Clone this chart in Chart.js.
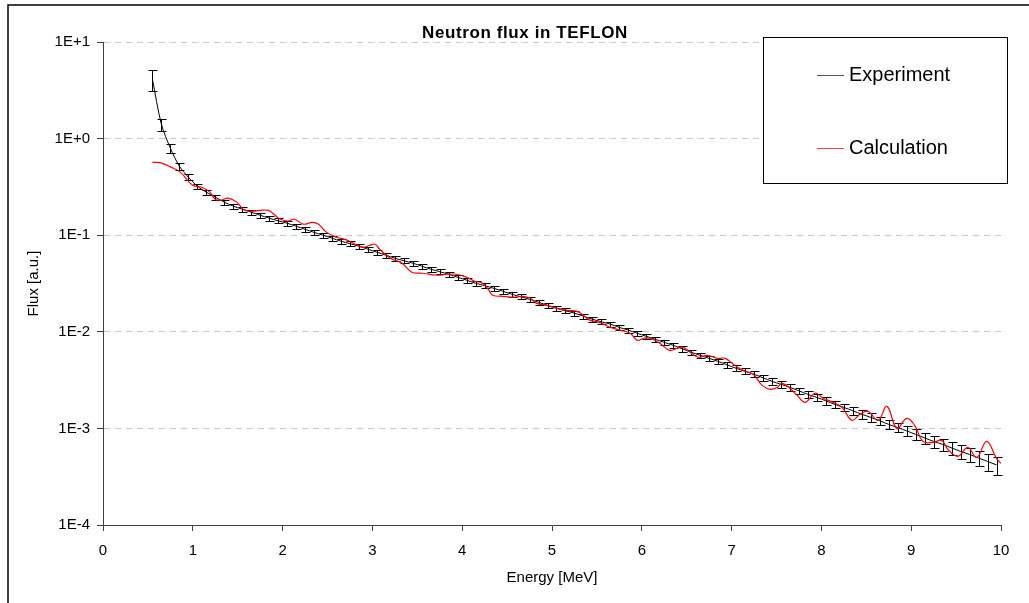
<!DOCTYPE html>
<html>
<head>
<meta charset="utf-8">
<title>Neutron flux in TEFLON</title>
<script src="https://cdn.jsdelivr.net/npm/chart.js@4.4.1/dist/chart.umd.min.js"></script>
<style>
  html, body { margin: 0; padding: 0; background: #fff; }
  #wrap { width: 1029px; height: 603px; }
</style>
</head>
<body>
<div id="wrap"><canvas id="myChart" width="1029" height="603"></canvas></div>
<script>
// ---- data ----
const chartTitle = "Neutron flux in TEFLON";
const xTitle = "Energy [MeV]";
const yTitle = "Flux [a.u.]";
const seriesNames = ["Experiment", "Calculation"];

const yTicks = [1e1, 1e0, 1e-1, 1e-2, 1e-3, 1e-4];
const yTickLabels = ["1E+1", "1E+0", "1E-1", "1E-2", "1E-3", "1E-4"];

// experiment: energy [MeV], flux, relative error
const expEnergy = [0.55,0.65,0.75,0.85,0.95,1.05,1.15,1.25,1.35,1.45,
  1.55,1.65,1.75,1.85,1.95,2.05,2.15,2.25,2.35,2.45,
  2.55,2.65,2.75,2.85,2.95,3.05,3.15,3.25,3.35,3.45,
  3.55,3.65,3.75,3.85,3.95,4.05,4.15,4.25,4.35,4.45,
  4.55,4.65,4.75,4.85,4.95,5.05,5.15,5.25,5.35,5.45,
  5.55,5.65,5.75,5.85,5.95,6.05,6.15,6.25,6.35,6.45,
  6.55,6.65,6.75,6.85,6.95,7.05,7.15,7.25,7.35,7.45,
  7.55,7.65,7.75,7.85,7.95,8.05,8.15,8.25,8.35,8.45,
  8.55,8.65,8.75,8.85,8.95,9.05,9.15,9.25,9.35,9.45,
  9.55,9.65,9.75,9.85,9.95];
const expFlux = [4.14,1.41,0.797,0.519,0.399,0.322,0.279,0.248,0.220,0.200,
  0.186,0.173,0.161,0.150,0.141,0.133,0.124,0.115,0.107,0.100,
  0.0931,0.0867,0.0817,0.0769,0.0716,0.0667,0.0621,0.0578,0.0544,0.0513,
  0.0478,0.0445,0.0419,0.0394,0.0367,0.0342,0.0318,0.0300,0.0282,0.0263,
  0.0245,0.0231,0.0217,0.0202,0.0188,0.0175,0.0165,0.0156,0.0145,0.0135,
  0.0127,0.0120,0.0111,0.0104,0.00964,0.00898,0.00836,0.00778,0.00724,0.00667,
  0.00614,0.00571,0.00531,0.00494,0.00455,0.00419,0.00390,0.00363,0.00334,0.00307,
  0.00286,0.00266,0.00245,0.00225,0.00209,0.00193,0.00177,0.00165,0.00152,0.00140,
  0.00130,0.00120,0.00110,0.00102,0.000942,0.000867,0.000797,0.000733,0.000683,0.000628,
  0.000578,0.000538,0.000494,0.000455,0.000419];
const expErr = [0.25,0.14,0.10,0.08,0.07,0.06,0.06,0.06,0.06,0.06,
  0.06,0.06,0.06,0.06,0.06,0.06,0.06,0.06,0.06,0.06,
  0.06,0.06,0.06,0.06,0.06,0.06,0.06,0.06,0.06,0.06,
  0.06,0.06,0.06,0.06,0.06,0.06,0.06,0.06,0.06,0.06,
  0.06,0.06,0.06,0.06,0.06,0.06,0.06,0.06,0.06,0.06,
  0.06,0.06,0.06,0.06,0.06,0.065,0.065,0.065,0.065,0.065,
  0.065,0.065,0.065,0.065,0.065,0.07,0.07,0.07,0.075,0.075,
  0.075,0.08,0.08,0.08,0.08,0.085,0.09,0.09,0.095,0.10,
  0.10,0.105,0.11,0.11,0.12,0.125,0.13,0.14,0.145,0.15,
  0.16,0.17,0.18,0.20,0.22];

// calculation: energy [MeV], flux
const calcEnergy = [0.55,0.66,0.75,0.86,0.97,1.02,1.10,1.19,1.25,1.32,
  1.39,1.49,1.56,1.64,1.75,1.84,1.89,1.97,2.06,2.13,
  2.23,2.33,2.40,2.49,2.60,2.72,2.83,2.90,2.97,3.03,
  3.08,3.20,3.33,3.44,3.56,3.72,3.83,3.94,4.05,4.14,
  4.23,4.29,4.34,4.45,4.57,4.68,4.76,4.83,4.94,5.06,
  5.17,5.28,5.35,5.42,5.53,5.65,5.76,5.87,5.95,6.02,
  6.09,6.20,6.31,6.39,6.46,6.54,6.63,6.73,6.84,6.93,
  7.02,7.13,7.24,7.34,7.43,7.51,7.56,7.65,7.73,7.82,
  7.93,8.02,8.13,8.23,8.34,8.43,8.52,8.63,8.73,8.84,
  8.95,9.04,9.13,9.24,9.34,9.41,9.52,9.63,9.73,9.84,
  9.95,10.0];
const calcFlux = [0.571,0.555,0.510,0.450,0.346,0.322,0.314,0.279,0.236,0.231,
  0.242,0.220,0.186,0.177,0.181,0.181,0.169,0.147,0.140,0.147,
  0.130,0.136,0.130,0.107,0.0953,0.0887,0.0787,0.0751,0.0787,0.0807,
  0.0716,0.0578,0.0513,0.0414,0.0404,0.0385,0.0394,0.0394,0.0367,0.0334,
  0.0318,0.0275,0.0239,0.0233,0.0228,0.0233,0.0222,0.0197,0.0188,0.0175,
  0.0167,0.0163,0.0148,0.0132,0.0125,0.0111,0.0104,0.00964,0.00816,0.00857,
  0.00857,0.00760,0.00643,0.00675,0.00690,0.00614,0.00545,0.00571,0.00531,0.00531,
  0.00460,0.00399,0.00363,0.00279,0.00254,0.00266,0.00292,0.00260,0.00220,0.00186,
  0.00231,0.00205,0.00186,0.00165,0.00121,0.00140,0.00150,0.00121,0.00169,0.00100,
  0.00127,0.00107,0.000733,0.000716,0.000752,0.000605,0.000513,0.000635,0.000500,0.000733,
  0.000489,0.000434];

const FONT = '"Liberation Sans", Arial, sans-serif';
Chart.defaults.font.family = FONT;
Chart.defaults.color = '#000';

// error bars on the experiment series (dataset 1), drawn before the red line
const errorBars = {
  id: 'errorBars',
  afterDatasetDraw(chart, args) {
    if (args.index !== 1) return;
    const { ctx, scales: { x, y } } = chart;
    ctx.save();
    ctx.strokeStyle = '#000';
    ctx.lineWidth = 1;
    ctx.beginPath();
    expEnergy.forEach((e, i) => {
      const px = Math.round(x.getPixelForValue(e)) + 0.5;
      const d = expFlux[i] * expErr[i];
      const top = Math.round(y.getPixelForValue(expFlux[i] + d)) + 0.5;
      const bot = Math.round(y.getPixelForValue(expFlux[i] - d)) + 0.5;
      ctx.moveTo(px, top); ctx.lineTo(px, bot);
      ctx.moveTo(px - 4, top); ctx.lineTo(px + 5, top);
      ctx.moveTo(px - 4, bot); ctx.lineTo(px + 5, bot);
    });
    ctx.stroke();
    ctx.restore();
  }
};

// frame, title and legend box like the spreadsheet original
const decorations = {
  id: 'decorations',
  beforeDraw(chart) {
    const ctx = chart.ctx;
    ctx.save();
    ctx.fillStyle = '#fff';
    ctx.fillRect(0, 0, chart.width, chart.height);
    ctx.restore();
  },
  afterDraw(chart) {
    const ctx = chart.ctx;
    ctx.save();
    ctx.strokeStyle = '#000';
    ctx.lineWidth = 1.5;
    ctx.beginPath();
    ctx.moveTo(8, chart.height);
    ctx.lineTo(8, 5);
    ctx.lineTo(chart.width, 5);
    ctx.stroke();

    ctx.fillStyle = '#000';
    ctx.font = 'bold 17px ' + FONT;
    ctx.letterSpacing = '0.6px';
    ctx.textAlign = 'center';
    ctx.textBaseline = 'middle';
    ctx.fillText(chartTitle, 525, 33);
    ctx.letterSpacing = '0px';

    // legend
    ctx.fillStyle = '#fff';
    ctx.fillRect(763.5, 37.5, 244, 146);
    ctx.strokeStyle = '#000';
    ctx.lineWidth = 1;
    ctx.strokeRect(763.5, 37.5, 244, 146);
    const rows = [
      { name: seriesNames[0], color: '#555', y: 75.5 },
      { name: seriesNames[1], color: '#ff4040', y: 148.5 }
    ];
    ctx.font = '20px ' + FONT;
    ctx.textAlign = 'left';
    rows.forEach(r => {
      ctx.strokeStyle = r.color;
      ctx.beginPath();
      ctx.moveTo(817, r.y);
      ctx.lineTo(844, r.y);
      ctx.stroke();
      ctx.fillStyle = '#000';
      ctx.fillText(r.name, 849, r.y);
    });
    ctx.restore();
  }
};

const ctx = document.getElementById('myChart').getContext('2d');
const chart = new Chart(ctx, {
  type: 'line',
  data: {
    datasets: [
      {
        label: seriesNames[1],
        data: calcEnergy.map((e, i) => ({ x: e, y: calcFlux[i] })),
        borderColor: '#ff0000',
        borderWidth: 1.2,
        pointRadius: 0,
        tension: 0.4,
        fill: false,
        order: 0
      },
      {
        label: seriesNames[0],
        data: expEnergy.map((e, i) => ({ x: e, y: expFlux[i] })),
        borderColor: '#000',
        borderWidth: 1,
        pointRadius: 0,
        tension: 0.3,
        fill: false,
        order: 1
      }
    ]
  },
  options: {
    responsive: false,
    animation: false,
    devicePixelRatio: 1,
    layout: { padding: { left: 10, top: 42, right: 28, bottom: 0 } },
    plugins: {
      legend: { display: false },
      title: { display: false },
      tooltip: { enabled: false }
    },
    scales: {
      x: {
        type: 'linear',
        min: 0,
        max: 10,
        ticks: { stepSize: 1, maxRotation: 0, padding: 11, font: { size: 15 }, color: '#000' },
        grid: { drawOnChartArea: false, drawTicks: true, tickLength: 6, tickColor: '#404040' },
        border: { color: '#404040', width: 1 },
        title: { display: true, text: xTitle, font: { size: 15 }, color: '#000', padding: { top: 0, bottom: 16 } },
        afterFit(s) { s.height = 78; }
      },
      y: {
        type: 'logarithmic',
        min: 1e-4,
        max: 10,
        afterBuildTicks(s) { s.ticks = yTicks.map(v => ({ value: v })); },
        ticks: {
          autoSkip: false,
          padding: 7,
          font: { size: 15 },
          color: '#000',
          callback: (v) => {
            const i = yTicks.findIndex(t => Math.abs(Math.log10(t) - Math.log10(v)) < 1e-6);
            return i >= 0 ? yTickLabels[i] : '';
          }
        },
        grid: { color: '#c8c8c8', lineWidth: 1, tickLength: 6, tickColor: '#404040' },
        border: { color: '#404040', width: 1, dash: [6, 5] },
        title: { display: true, text: yTitle, font: { size: 15 }, color: '#000', padding: { top: 15, bottom: 0 } },
        afterFit(s) { s.width = 93; }
      }
    }
  },
  plugins: [errorBars, decorations]
});
</script>
</body>
</html>
